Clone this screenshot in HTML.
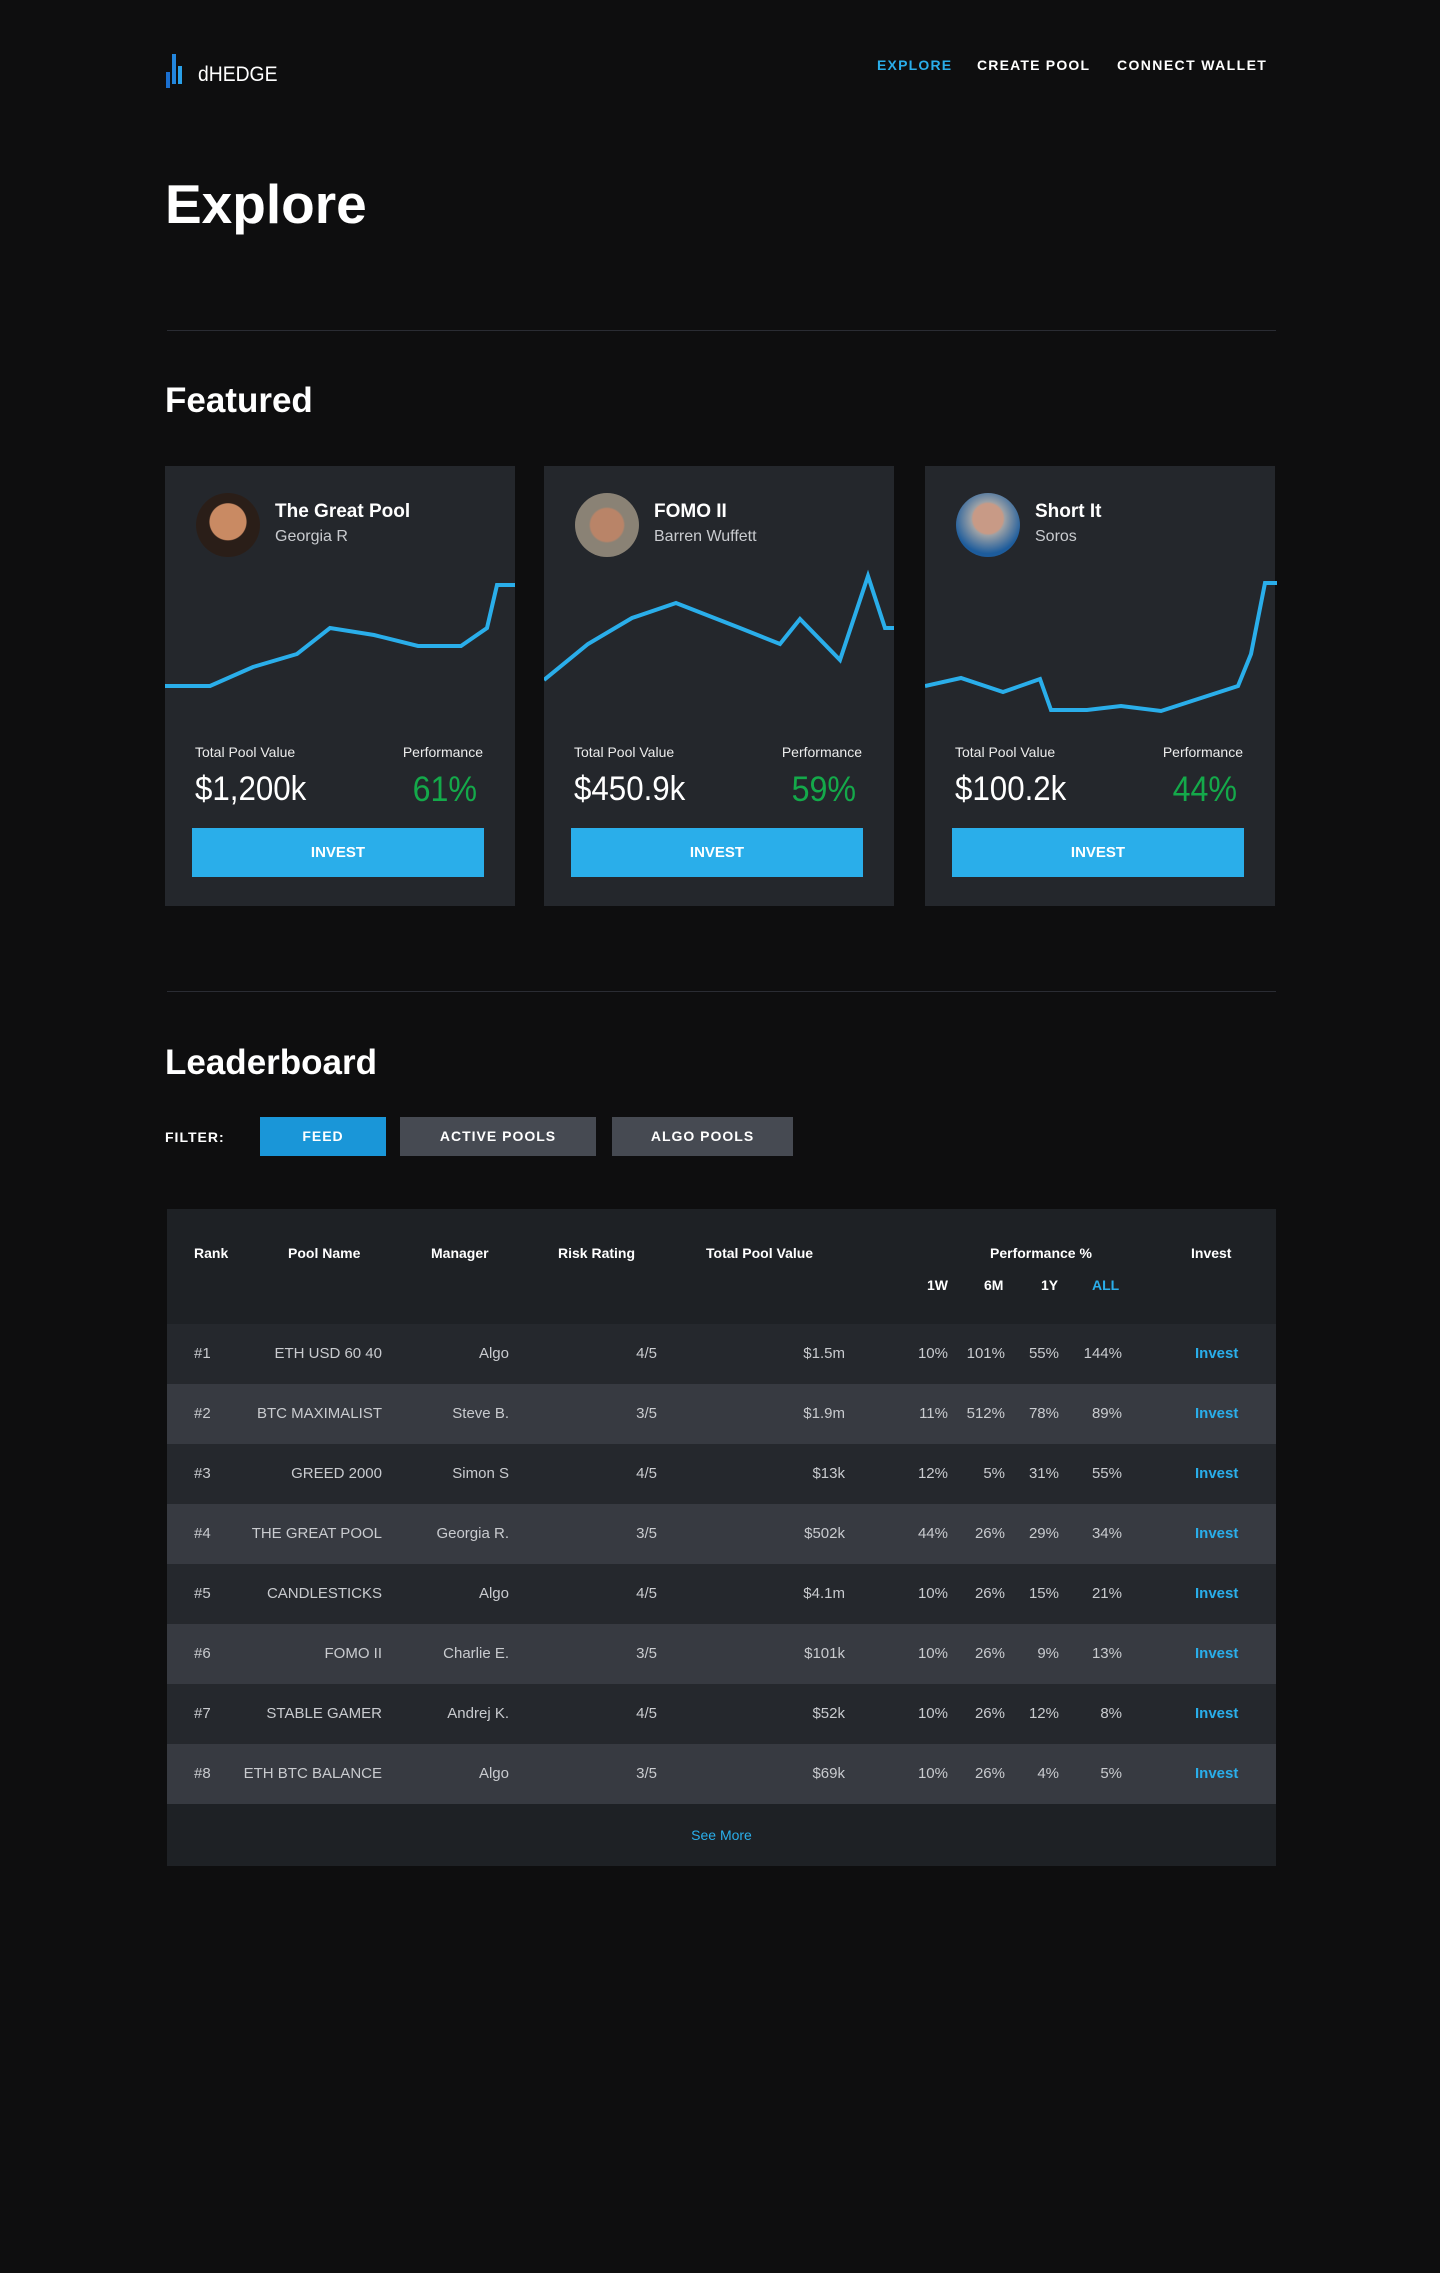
<!DOCTYPE html>
<html><head><meta charset="utf-8"><style>
*{margin:0;padding:0;box-sizing:border-box}
body{width:1440px;height:2273px;background:#0e0e0f;font-family:"Liberation Sans",sans-serif;color:#fff;position:relative;overflow:hidden}
.a{position:absolute;white-space:nowrap}
.card{position:absolute;top:466px;width:350px;height:440px;background:#24272c}
.av{position:absolute;left:31px;top:27px;width:64px;height:64px;border-radius:50%}
.t{position:absolute;left:110px;top:35px;font-size:19px;font-weight:bold}
.s{position:absolute;left:110px;top:62px;font-size:16px;color:#c9cbcf}
.l1{position:absolute;left:30px;top:278px;font-size:14px;color:#ececec}
.l2{position:absolute;right:32px;top:278px;font-size:14px;color:#ececec}
.v1{position:absolute;left:30px;top:304px;font-size:34px;transform:scaleX(.92);transform-origin:left}
.v2{position:absolute;right:38px;top:304px;font-size:35px;color:#14a94a;transform:scaleX(.92);transform-origin:right}
.btn{position:absolute;left:27px;top:362px;width:292px;height:49px;background:#2aaeea;color:#fff;font-weight:bold;font-size:15px;text-align:center;line-height:49px}
.row{position:absolute;left:167px;width:1109px;height:60px;font-size:15px;color:#c9cbcf}
.row span{position:absolute;top:21px}
.hd{font-size:14px;font-weight:bold;color:#fff}
</style></head><body>
<svg class="a" style="left:166px;top:54px" width="30" height="35"><rect x="0" y="18" width="4" height="16" fill="#1a6fd0"/><rect x="6" y="0" width="4" height="30" fill="#2386dd"/><rect x="12" y="12" width="4" height="18" fill="#2aa0e8"/></svg>
<div class="a" style="left:198px;top:63px;font-size:21px;transform:scaleX(.92);transform-origin:left">dHEDGE</div>
<div class="a" style="left:877px;top:57px;font-size:14px;font-weight:bold;color:#2aaeea;letter-spacing:1.2px">EXPLORE</div>
<div class="a" style="left:977px;top:57px;font-size:14px;font-weight:bold;letter-spacing:1.2px">CREATE POOL</div>
<div class="a" style="left:1117px;top:57px;font-size:14px;font-weight:bold;letter-spacing:1.4px">CONNECT WALLET</div>
<div class="a" style="left:165px;top:172px;font-size:55px;font-weight:bold">Explore</div>
<div class="a" style="left:167px;top:330px;width:1109px;height:1px;background:#2a2c33"></div>
<div class="a" style="left:165px;top:381px;font-size:35px;font-weight:bold">Featured</div>

<div class="card" style="left:165px">
<div class="av" style="background:radial-gradient(circle at 50% 45%,#c98a63 0 38%,#2a1e18 40%)"></div>
<div class="t">The Great Pool</div><div class="s">Georgia R</div>
<svg class="a" style="left:0;top:0" width="350" height="440"><polyline fill="none" stroke="#2aaeea" stroke-width="4" points="0,220 45,220 88,201 132,188 165,162 209,169 253,180 296,180 322,162 332,119 350,119"/></svg>
<div class="l1">Total Pool Value</div><div class="l2">Performance</div>
<div class="v1">$1,200k</div><div class="v2">61%</div>
<div class="btn">INVEST</div></div>

<div class="card" style="left:544px">
<div class="av" style="background:radial-gradient(circle at 50% 50%,#b98468 0 36%,#8a8275 40%)"></div>
<div class="t">FOMO II</div><div class="s">Barren Wuffett</div>
<svg class="a" style="left:0;top:0" width="350" height="440"><polyline fill="none" stroke="#2aaeea" stroke-width="4" points="0,214 44,178 88,152 132,137 196,162 236,178 256,153 296,194 324,110 341,162 350,162"/></svg>
<div class="l1">Total Pool Value</div><div class="l2">Performance</div>
<div class="v1">$450.9k</div><div class="v2">59%</div>
<div class="btn">INVEST</div></div>

<div class="card" style="left:925px">
<div class="av" style="background:radial-gradient(circle at 50% 40%,#c89a86 0 30%,#9aa0a6 34%,#1d5c9c 70%)"></div>
<div class="t">Short It</div><div class="s">Soros</div>
<svg class="a" style="left:0;top:0" width="352" height="440"><polyline fill="none" stroke="#2aaeea" stroke-width="4" points="0,220 36,212 78,226 115,213 126,244 162,244 196,240 236,245 313,220 326,188 340,117 352,117"/></svg>
<div class="l1">Total Pool Value</div><div class="l2">Performance</div>
<div class="v1">$100.2k</div><div class="v2">44%</div>
<div class="btn">INVEST</div></div>

<div class="a" style="left:167px;top:991px;width:1109px;height:1px;background:#2a2c33"></div>
<div class="a" style="left:165px;top:1043px;font-size:35px;font-weight:bold">Leaderboard</div>
<div class="a" style="left:165px;top:1129px;font-size:14px;font-weight:bold;letter-spacing:1px">FILTER:</div>
<div class="a" style="left:260px;top:1117px;width:126px;height:39px;background:#1a96d8;text-align:center;line-height:39px;font-size:14px;font-weight:bold;letter-spacing:1px">FEED</div>
<div class="a" style="left:400px;top:1117px;width:196px;height:39px;background:#464a52;text-align:center;line-height:39px;font-size:14px;font-weight:bold;letter-spacing:1px">ACTIVE POOLS</div>
<div class="a" style="left:612px;top:1117px;width:181px;height:39px;background:#464a52;text-align:center;line-height:39px;font-size:14px;font-weight:bold;letter-spacing:1px">ALGO POOLS</div>

<div class="a" style="left:167px;top:1209px;width:1109px;height:657px;background:#1e2125"></div>
<div class="a hd" style="left:194px;top:1245px">Rank</div>
<div class="a hd" style="left:288px;top:1245px">Pool Name</div>
<div class="a hd" style="left:431px;top:1245px">Manager</div>
<div class="a hd" style="left:558px;top:1245px">Risk Rating</div>
<div class="a hd" style="left:706px;top:1245px">Total Pool Value</div>
<div class="a hd" style="left:990px;top:1245px">Performance %</div>
<div class="a hd" style="left:1191px;top:1245px">Invest</div>
<div class="a hd" style="left:927px;top:1277px">1W</div>
<div class="a hd" style="left:984px;top:1277px">6M</div>
<div class="a hd" style="left:1041px;top:1277px">1Y</div>
<div class="a hd" style="left:1092px;top:1277px;color:#2aaeea">ALL</div>

<div class="row" style="top:1324px;background:#25282d"><span style="left:27px">#1</span><span style="right:894px">ETH USD 60 40</span><span style="right:767px">Algo</span><span style="right:619px">4/5</span><span style="right:431px">$1.5m</span><span style="right:328px">10%</span><span style="right:271px">101%</span><span style="right:217px">55%</span><span style="right:154px">144%</span><span style="left:1028px;color:#2aaeea;font-weight:bold">Invest</span></div>
<div class="row" style="top:1384px;background:#373a41"><span style="left:27px">#2</span><span style="right:894px">BTC MAXIMALIST</span><span style="right:767px">Steve B.</span><span style="right:619px">3/5</span><span style="right:431px">$1.9m</span><span style="right:328px">11%</span><span style="right:271px">512%</span><span style="right:217px">78%</span><span style="right:154px">89%</span><span style="left:1028px;color:#2aaeea;font-weight:bold">Invest</span></div>
<div class="row" style="top:1444px;background:#25282d"><span style="left:27px">#3</span><span style="right:894px">GREED 2000</span><span style="right:767px">Simon S</span><span style="right:619px">4/5</span><span style="right:431px">$13k</span><span style="right:328px">12%</span><span style="right:271px">5%</span><span style="right:217px">31%</span><span style="right:154px">55%</span><span style="left:1028px;color:#2aaeea;font-weight:bold">Invest</span></div>
<div class="row" style="top:1504px;background:#373a41"><span style="left:27px">#4</span><span style="right:894px">THE GREAT POOL</span><span style="right:767px">Georgia R.</span><span style="right:619px">3/5</span><span style="right:431px">$502k</span><span style="right:328px">44%</span><span style="right:271px">26%</span><span style="right:217px">29%</span><span style="right:154px">34%</span><span style="left:1028px;color:#2aaeea;font-weight:bold">Invest</span></div>
<div class="row" style="top:1564px;background:#25282d"><span style="left:27px">#5</span><span style="right:894px">CANDLESTICKS</span><span style="right:767px">Algo</span><span style="right:619px">4/5</span><span style="right:431px">$4.1m</span><span style="right:328px">10%</span><span style="right:271px">26%</span><span style="right:217px">15%</span><span style="right:154px">21%</span><span style="left:1028px;color:#2aaeea;font-weight:bold">Invest</span></div>
<div class="row" style="top:1624px;background:#373a41"><span style="left:27px">#6</span><span style="right:894px">FOMO II</span><span style="right:767px">Charlie E.</span><span style="right:619px">3/5</span><span style="right:431px">$101k</span><span style="right:328px">10%</span><span style="right:271px">26%</span><span style="right:217px">9%</span><span style="right:154px">13%</span><span style="left:1028px;color:#2aaeea;font-weight:bold">Invest</span></div>
<div class="row" style="top:1684px;background:#25282d"><span style="left:27px">#7</span><span style="right:894px">STABLE GAMER</span><span style="right:767px">Andrej K.</span><span style="right:619px">4/5</span><span style="right:431px">$52k</span><span style="right:328px">10%</span><span style="right:271px">26%</span><span style="right:217px">12%</span><span style="right:154px">8%</span><span style="left:1028px;color:#2aaeea;font-weight:bold">Invest</span></div>
<div class="row" style="top:1744px;background:#373a41"><span style="left:27px">#8</span><span style="right:894px">ETH BTC BALANCE</span><span style="right:767px">Algo</span><span style="right:619px">3/5</span><span style="right:431px">$69k</span><span style="right:328px">10%</span><span style="right:271px">26%</span><span style="right:217px">4%</span><span style="right:154px">5%</span><span style="left:1028px;color:#2aaeea;font-weight:bold">Invest</span></div>
<div class="a" style="left:167px;top:1827px;width:1109px;text-align:center;font-size:14px;color:#2aaeea">See More</div>
</body></html>
